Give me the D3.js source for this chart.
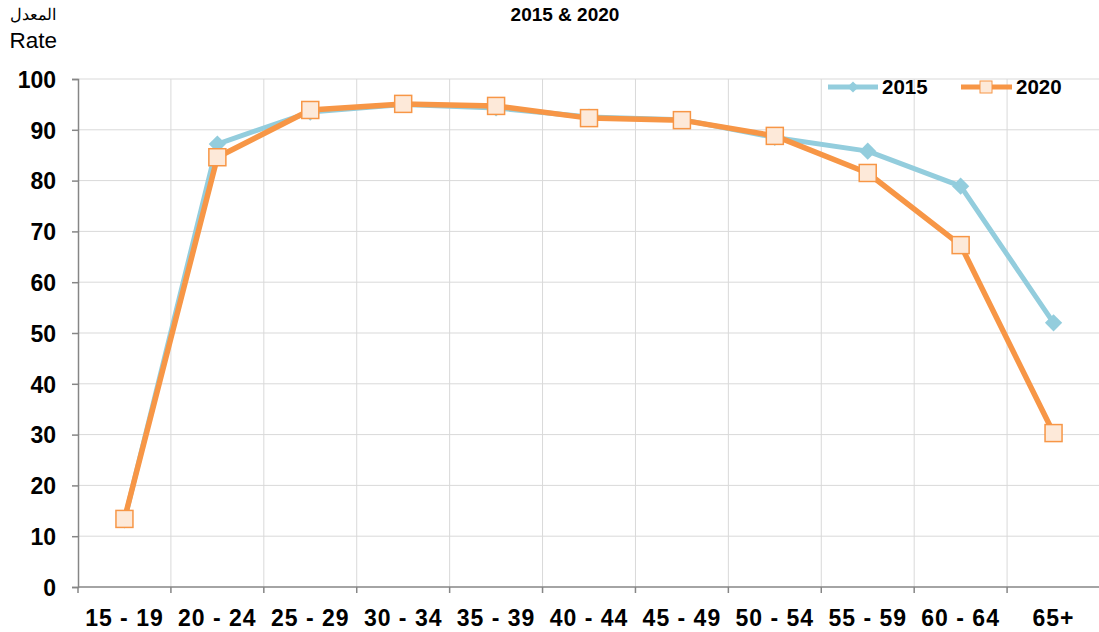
<!DOCTYPE html>
<html>
<head>
<meta charset="utf-8">
<script src="https://cdn.jsdelivr.net/npm/d3@7"></script>
<style>
  body { margin: 0; background: #fff; }
  text { font-family: Arial, "Liberation Sans", sans-serif; }
</style>
</head>
<body>
<div id="chart"></div>
<script>
// data
const ageGroups = ["15 - 19", "20 - 24", "25 - 29", "30 - 34", "35 - 39", "40 - 44",
  "45 - 49", "50 - 54", "55 - 59", "60 - 64", "65+"];
const rate2015 = [13.2, 87.2, 93.5, 95.0, 94.3, 92.5, 92.0, 88.5, 85.8, 78.9, 52.0];
const rate2020 = [13.4, 84.6, 93.9, 95.1, 94.7, 92.3, 91.9, 88.8, 81.5, 67.3, 30.3];
const yTicks = [0, 10, 20, 30, 40, 50, 60, 70, 80, 90, 100];

const width = 1099, height = 632;
const margin = { top: 79, right: -1, bottom: 45, left: 78 };

const c2015 = "#93cddd", c2020 = "#f79646", fill2020 = "#fde9d9";
const font = "Arial, 'Liberation Sans', sans-serif";

const svg = d3.select("#chart").append("svg")
  .attr("width", width).attr("height", height);

const x = d3.scaleBand().domain(ageGroups)
  .range([margin.left, width - margin.right]);
const y = d3.scaleLinear().domain([0, 100])
  .range([height - margin.bottom, margin.top]);

// gridlines
svg.append("g").selectAll("line")
  .data(yTicks.slice(1))
  .join("line")
  .attr("x1", margin.left).attr("x2", width - margin.right)
  .attr("y1", d => y(d)).attr("y2", d => y(d))
  .attr("stroke", "#d9d9d9").attr("stroke-width", 1);

svg.append("g").selectAll("line")
  .data(d3.range(1, ageGroups.length + 1))
  .join("line")
  .attr("x1", i => margin.left + x.step() * i)
  .attr("x2", i => margin.left + x.step() * i)
  .attr("y1", y(0)).attr("y2", y(100))
  .attr("stroke", "#d9d9d9").attr("stroke-width", 1);

// y axis
const yAxis = svg.append("g")
  .attr("transform", `translate(${margin.left},0)`)
  .call(d3.axisLeft(y).tickValues(yTicks).tickSize(6).tickPadding(16));
yAxis.select(".domain").attr("stroke", "#868686").attr("stroke-width", 1.5);
yAxis.selectAll(".tick line").attr("stroke", "#868686").attr("stroke-width", 1.5);
yAxis.selectAll(".tick text")
  .attr("font-size", 23).attr("font-weight", "bold").attr("fill", "#000")
  .attr("dy", "0.36em")
  .style("font-family", font);

// x axis: ticks at band boundaries
const xAxis = svg.append("g").attr("transform", `translate(0,${y(0)})`);
xAxis.append("line")
  .attr("x1", margin.left).attr("x2", width - margin.right)
  .attr("stroke", "#868686").attr("stroke-width", 1.5);
xAxis.selectAll("line.tick")
  .data(d3.range(ageGroups.length + 1))
  .join("line")
  .attr("class", "tick")
  .attr("x1", i => margin.left + x.step() * i)
  .attr("x2", i => margin.left + x.step() * i)
  .attr("y1", 0).attr("y2", 6)
  .attr("stroke", "#868686").attr("stroke-width", 1.5);
xAxis.selectAll("text")
  .data(ageGroups)
  .join("text")
  .attr("x", d => x(d) + x.bandwidth() / 2)
  .attr("y", 39)
  .attr("text-anchor", "middle")
  .attr("font-size", 23).attr("font-weight", "bold")
  .attr("letter-spacing", 1)
  .text(d => d);

// lines
const line = d3.line()
  .x((d, i) => x(ageGroups[i]) + x.bandwidth() / 2)
  .y(d => y(d));

svg.append("path").datum(rate2015)
  .attr("d", line).attr("fill", "none")
  .attr("stroke", c2015).attr("stroke-width", 5).attr("stroke-linejoin", "round");

svg.append("g").selectAll("path")
  .data(rate2015)
  .join("path")
  .attr("d", d3.symbol(d3.symbolDiamond2, 190))
  .attr("transform", (d, i) => `translate(${x(ageGroups[i]) + x.bandwidth() / 2},${y(d)})`)
  .attr("fill", c2015);

svg.append("path").datum(rate2020)
  .attr("d", line).attr("fill", "none")
  .attr("stroke", c2020).attr("stroke-width", 5.5).attr("stroke-linejoin", "round");

svg.append("g").selectAll("rect")
  .data(rate2020)
  .join("rect")
  .attr("x", (d, i) => x(ageGroups[i]) + x.bandwidth() / 2 - 8.5)
  .attr("y", d => y(d) - 8.5)
  .attr("width", 17).attr("height", 17)
  .attr("fill", fill2020).attr("stroke", c2020).attr("stroke-width", 1.5);

// legend
const legend = svg.append("g");
legend.append("line").attr("x1", 828).attr("x2", 878).attr("y1", 87).attr("y2", 87)
  .attr("stroke", c2015).attr("stroke-width", 5);
legend.append("path").attr("d", d3.symbol(d3.symbolDiamond2, 80))
  .attr("transform", "translate(853,87)").attr("fill", c2015);
legend.append("text").attr("x", 882).attr("y", 94)
  .attr("font-size", 20.5).attr("font-weight", "bold").text("2015");

legend.append("line").attr("x1", 961).attr("x2", 1012).attr("y1", 87).attr("y2", 87)
  .attr("stroke", c2020).attr("stroke-width", 5);
legend.append("rect").attr("x", 980).attr("y", 81).attr("width", 12).attr("height", 12)
  .attr("fill", fill2020).attr("stroke", c2020).attr("stroke-width", 1);
legend.append("text").attr("x", 1016).attr("y", 94)
  .attr("font-size", 20.5).attr("font-weight", "bold").text("2020");

// titles
svg.append("text").attr("x", 565).attr("y", 21)
  .attr("text-anchor", "middle").attr("font-size", 19).attr("font-weight", "bold")
  .text("2015 & 2020");

svg.append("text").attr("x", 56).attr("y", 20)
  .attr("text-anchor", "end").attr("font-size", 16).text("المعدل");
svg.append("text").attr("x", 57).attr("y", 48)
  .attr("text-anchor", "end").attr("font-size", 22.5).text("Rate");
</script>
</body>
</html>
